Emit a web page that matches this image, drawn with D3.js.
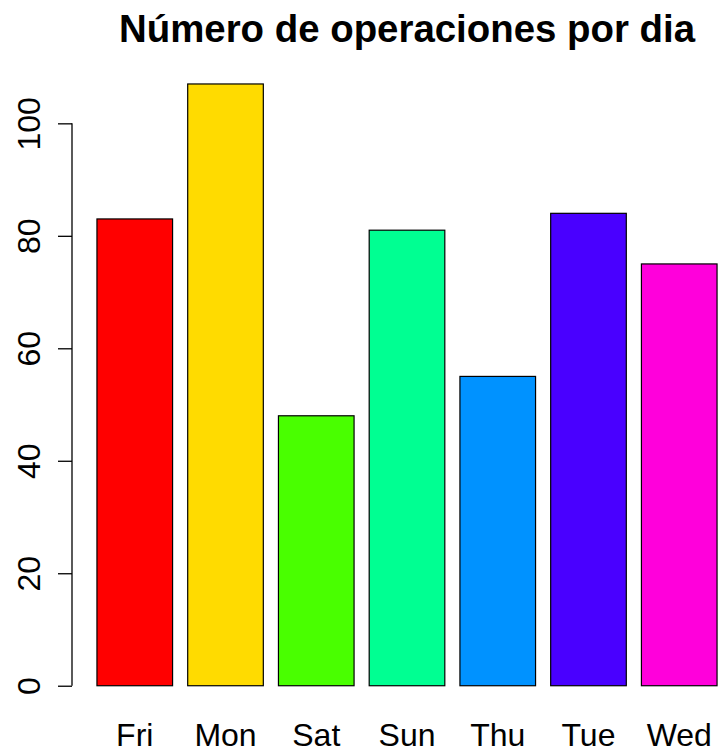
<!DOCTYPE html>
<html>
<head>
<meta charset="utf-8">
<script src="https://cdn.jsdelivr.net/npm/d3@7"></script>
<style>
  html, body { margin: 0; padding: 0; background: #fff; }
  svg { display: block; font-family: "Liberation Sans", Arial, sans-serif; }
</style>
</head>
<body>
<div id="chart"></div>
<script>
// Data
const days = ["Fri", "Mon", "Sat", "Sun", "Thu", "Tue", "Wed"];
const counts = [83, 107, 48, 81, 55, 84, 75];
const colors = ["#FF0000", "#FFDB00", "#49FF00", "#00FF92", "#0092FF", "#4900FF", "#FF00DB"];
const yTicks = [0, 20, 40, 60, 80, 100];
const title = "Número de operaciones por dia";

const width = 718, height = 749;

const svg = d3.select("#chart")
  .append("svg")
  .attr("width", width)
  .attr("height", height);

// R barplot layout: bar width 1, space 0.2, axis extended by 4%
const x = d3.scaleLinear()
  .domain([-0.13, 8.73])
  .range([72, 742]);

const y = d3.scaleLinear()
  .domain([-4.28, 111.28])
  .range([709.8, 59.9]);

// Bars
svg.append("g")
  .selectAll("rect")
  .data(days)
  .join("rect")
  .attr("x", (d, i) => x(0.2 + 1.2 * i))
  .attr("y", (d, i) => y(counts[i]))
  .attr("width", (d, i) => x(1.2 + 1.2 * i) - x(0.2 + 1.2 * i))
  .attr("height", (d, i) => y(0) - y(counts[i]))
  .attr("fill", (d, i) => colors[i])
  .attr("stroke", "#000")
  .attr("stroke-width", 1.2);

// Y axis
const yAxis = d3.axisLeft(y)
  .tickValues(yTicks)
  .tickSize(14)
  .tickSizeOuter(0)
  .tickPadding(0);

const ga = svg.append("g")
  .attr("transform", `translate(${x(-0.13)},0)`)
  .call(yAxis);

ga.select(".domain")
  .attr("d", `M0,${y(0)}V${y(100)}`)
  .attr("stroke", "#000")
  .attr("stroke-width", 1.3);
ga.selectAll(".tick line").attr("stroke", "#000").attr("stroke-width", 1.3);
ga.selectAll(".tick text")
  .attr("x", null)
  .attr("dy", null)
  .attr("transform", "translate(-32,0) rotate(-90)")
  .attr("text-anchor", "middle")
  .attr("font-size", 32)
  .attr("fill", "#000");

// X labels
svg.append("g")
  .selectAll("text")
  .data(days)
  .join("text")
  .attr("x", (d, i) => x(0.7 + 1.2 * i))
  .attr("y", 745.5)
  .attr("text-anchor", "middle")
  .attr("font-size", 32)
  .text(d => d);

// Title
svg.append("text")
  .attr("x", (x(-0.13) + x(8.73)) / 2)
  .attr("y", 41.5)
  .attr("text-anchor", "middle")
  .attr("font-size", 38.4)
  .attr("font-weight", "bold")
  .text(title);
</script>
</body>
</html>
